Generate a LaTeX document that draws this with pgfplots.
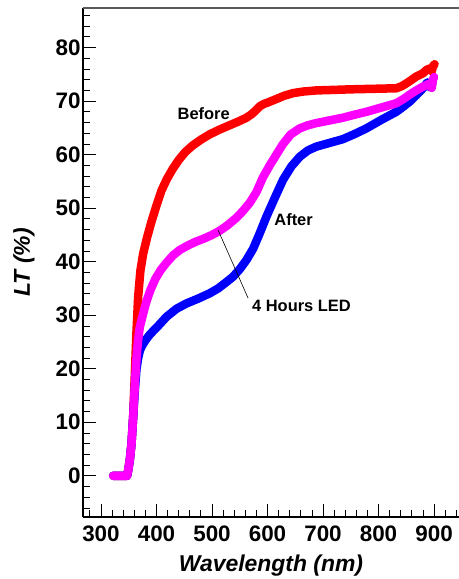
\documentclass[border=0pt]{standalone}
\usepackage{pgfplots}
\pgfplotsset{compat=1.18}
\usepackage{fontspec}
\setmainfont{Liberation Sans}
\definecolor{cred}{RGB}{255,0,0}
\definecolor{cmag}{RGB}{255,0,255}
\definecolor{cblue}{RGB}{0,0,255}
\begin{document}
\begin{tikzpicture}
\begin{axis}[
  scale only axis,
  width=376bp, height=509bp,
  xmin=267.6, xmax=945,
  ymin=-7.7, ymax=87.4,
  axis x line*=bottom, axis y line*=left,
  axis line style={-, line width=1.1bp, black},
  xtick={300,400,...,900}, ytick={0,10,...,80},
  minor xtick={280,300,...,940},
  minor ytick={-6,-4,...,86},
  tick align=inside,
  major tick length=13bp, minor tick length=7bp,
  every tick/.style={black, line width=0.8bp},
  /pgf/number format/assume math mode=true,
  ticklabel style={font=\fontsize{22.5}{24}\selectfont\bfseries},
  xticklabel style={yshift=-5bp},
  yticklabel style={xshift=1bp},
  xlabel={\bfseries\itshape Wavelength (nm)},
  ylabel={\bfseries\itshape LT (\%)},
  label style={font=\fontsize{23}{26}\selectfont},
  xlabel style={at={(axis description cs:0.5,-0.0963)}, anchor=center},
  ylabel style={at={(axis description cs:-0.157,0.5)}, anchor=center, rotate=0},
  clip=false,
]
\coordinate (bl) at (rel axis cs:0,0);
\coordinate (tr) at (rel axis cs:1,1);
\draw[line width=1.1bp, black!65] (rel axis cs:0,1) -- (rel axis cs:1,1);

\addplot[cred, line width=8.5bp, line join=round, line cap=round] coordinates {
(322,0) (330,0) (340,0) (347,0) (349,1) (352,3) (355,6) (358,11) (361,19) (364,27)
(367,33.5) (371,38.3) (376,41.5) (383,44.5) (391,47.5) (400,50.5) (409,53.3)
(419,55.5) (429,57.3) (440,59) (452,60.5) (465,61.7) (480,62.8) (496,63.8) (514,64.7)
(532,65.5) (550,66.3) (562,66.9) (572,67.6) (580,68.4) (587,69.1) (594,69.5) (602,69.8)
(616,70.4) (630,71.0) (646,71.5) (665,71.8) (688,72.0) (720,72.1) (748,72.2) (790,72.3)
(832,72.4) (842,72.8) (850,73.3) (860,74.0) (868,74.6) (880,75.2) (886,75.8)
(892,76.1) (896,75.6) (898,76.5) (901,76.9)
};
\addplot[cblue, line width=8.5bp, line join=round, line cap=round] coordinates {
(322,0) (330,0) (340,0) (347,0) (349,1) (352,3) (355,6) (358,11) (361,16) (364,20)
(367,22) (370,23.4) (374,24.3) (380,25.3) (388,26.4) (403,28) (418,29.7) (436,31.2)
(454,32.2) (475,33.1) (496,34.1) (511,35) (526,36.2) (538,37.2) (550,38.6)
(562,40.3) (574,42.4) (586,45.3) (598,48.4) (613,51.9) (628,55.3) (643,57.8)
(658,59.6) (673,60.8) (688,61.5) (712,62.2) (736,62.9) (758,63.9) (778,64.9)
(805,66.5) (832,68.0) (845,69.0) (856,69.9) (868,71.1) (880,72.4) (888,73.5)
(893,72.6) (897,73.2)
};
\addplot[cmag, line width=8.5bp, line join=round, line cap=round] coordinates {
(322,0) (330,0) (340,0) (347,0) (349,1) (352,3) (355,6) (358,11) (361,17) (364,22)
(367,25.5) (370,27.8) (376,30.3) (382,32.6) (389,34.7) (398,36.8) (408,38.5)
(418,39.8) (430,41.2) (442,42.2) (456,43) (470,43.7) (485,44.3) (500,45)
(514,45.8) (528,46.8) (544,48.2) (556,49.5) (568,51) (580,53) (592,55.8)
(604,58) (616,60) (628,62) (642,63.8) (658,64.9) (673,65.5) (688,65.9)
(712,66.4) (736,66.9) (758,67.5) (778,68.0) (805,68.8) (832,69.6) (845,70.4)
(856,71.2) (868,72) (880,72.7) (890,73.2) (896,72.5) (898,74.0) (900,74.5)
};

\draw[black, line width=0.6bp] (axis cs:511,45.9) -- (axis cs:565,33.2);
\node[font=\fontsize{16.5}{18}\selectfont\bfseries] at (axis cs:485,67.6) {Before};
\node[font=\fontsize{16.5}{18}\selectfont\bfseries] at (axis cs:647,47.8) {After};
\node[font=\fontsize{16.5}{18}\selectfont\bfseries, anchor=west, inner sep=0pt] at (axis cs:572,31.7) {4 Hours LED};
\end{axis}
\pgfresetboundingbox
\path[use as bounding box] ([shift={(-83bp,-62bp)}]bl) rectangle ([shift={(0bp,8bp)}]tr);
\end{tikzpicture}
\end{document}
